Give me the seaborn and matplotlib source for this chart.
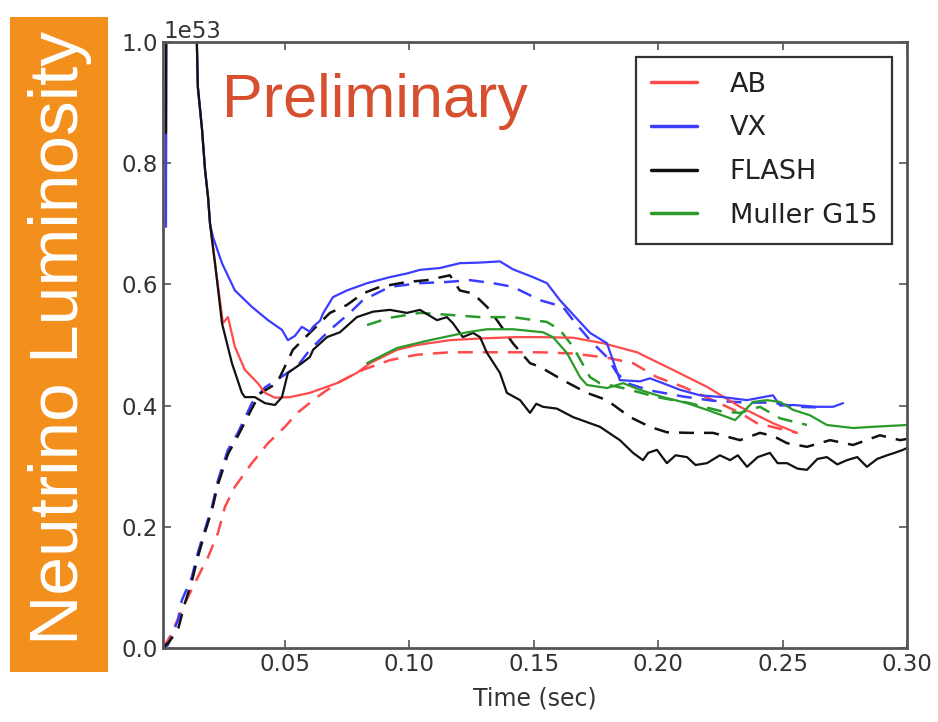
import numpy as np
import pandas as pd
import matplotlib
matplotlib.use("Agg")
import matplotlib.pyplot as plt
from matplotlib.patches import Rectangle
import seaborn as sns

SCALE = 1e53

# ---------------- data (time in s, luminosity in 1e53 erg/s) ----------------
vx_t = [0.0022, 0.0025, 0.0140, 0.0146, 0.0150, 0.0167, 0.0179, 0.0191, 0.0199, 0.0211,
        0.0247, 0.0299, 0.0367, 0.0432, 0.0488, 0.0512, 0.0540, 0.0568, 0.0600, 0.0613,
        0.0641, 0.0653, 0.0693, 0.0749, 0.0830, 0.0922, 0.0990, 0.1043, 0.1123, 0.1203,
        0.1284, 0.1364, 0.1416, 0.1497, 0.1553, 0.1605, 0.1726, 0.1794, 0.1846, 0.1927,
        0.1967, 0.2019, 0.2088, 0.2168, 0.2260, 0.2357, 0.2461, 0.2490, 0.2542, 0.2638,
        0.2703, 0.2743]
vx_L = [0.695, 1.5, 1.5, 1.0, 0.926, 0.855, 0.789, 0.744, 0.700, 0.678,
        0.635, 0.590, 0.563, 0.541, 0.525, 0.508, 0.515, 0.530, 0.522, 0.530,
        0.540, 0.552, 0.579, 0.590, 0.602, 0.612, 0.618, 0.624, 0.627, 0.635,
        0.636, 0.638, 0.625, 0.612, 0.602, 0.574, 0.520, 0.503, 0.442, 0.440,
        0.445, 0.437, 0.426, 0.417, 0.414, 0.409, 0.417, 0.400, 0.401, 0.398,
        0.398, 0.404]

vxd_t = [0.001, 0.0030, 0.0070, 0.0086, 0.0126, 0.0150, 0.0178, 0.0207, 0.0231, 0.0271,
         0.0311, 0.0367, 0.0420, 0.0548, 0.0600, 0.0681, 0.0761, 0.0813, 0.0922, 0.1043,
         0.1151, 0.1244, 0.1336, 0.1416, 0.1525, 0.1617, 0.1658, 0.1726, 0.1794, 0.1834,
         0.1875, 0.1967, 0.2100, 0.2220, 0.2357, 0.2461, 0.2558, 0.2650]
vxd_L = [0.0, 0.005, 0.046, 0.079, 0.117, 0.157, 0.195, 0.233, 0.277, 0.327,
         0.355, 0.404, 0.430, 0.464, 0.492, 0.525, 0.553, 0.574, 0.596, 0.602,
         0.604, 0.607, 0.602, 0.596, 0.574, 0.563, 0.541, 0.508, 0.480, 0.454,
         0.437, 0.425, 0.415, 0.408, 0.405, 0.405, 0.398, 0.397]

ab_t = [0.0022, 0.0025, 0.0140, 0.0146, 0.0150, 0.0167, 0.0179, 0.0191, 0.0199, 0.0219,
        0.0251, 0.0271, 0.0299, 0.0339, 0.0391, 0.0420, 0.0460, 0.0520, 0.0600, 0.0709,
        0.0789, 0.0842, 0.0950, 0.1031, 0.1163, 0.1296, 0.1432, 0.1525, 0.1658, 0.1778,
        0.1915, 0.2059, 0.2196, 0.2329, 0.2461, 0.2558]
ab_L = [0.80, 1.5, 1.5, 1.0, 0.926, 0.855, 0.789, 0.744, 0.700, 0.635,
        0.536, 0.546, 0.497, 0.459, 0.437, 0.421, 0.413, 0.414, 0.421, 0.437,
        0.454, 0.470, 0.492, 0.500, 0.508, 0.511, 0.513, 0.513, 0.512, 0.503,
        0.488, 0.459, 0.431, 0.398, 0.371, 0.355]

abd_t = [0.001, 0.0040, 0.0098, 0.0150, 0.0191, 0.0231, 0.0259, 0.0299, 0.0367, 0.0432,
         0.0500, 0.0550, 0.0629, 0.0709, 0.0813, 0.0922, 0.1031, 0.1163, 0.1300, 0.1432,
         0.1525, 0.1658, 0.1794, 0.1899, 0.1995, 0.2100, 0.2220, 0.2329, 0.2397, 0.2558]
abd_L = [0.0, 0.020, 0.074, 0.117, 0.150, 0.190, 0.233, 0.266, 0.305, 0.338,
         0.365, 0.388, 0.414, 0.437, 0.459, 0.475, 0.484, 0.488, 0.488, 0.488,
         0.488, 0.486, 0.479, 0.470, 0.447, 0.431, 0.409, 0.388, 0.371, 0.355]

fl_t = [0.0022, 0.0025, 0.0140, 0.0146, 0.0150, 0.0167, 0.0179, 0.0191, 0.0199, 0.0219,
        0.0247, 0.0287, 0.0327, 0.0339, 0.0379, 0.0420, 0.0460, 0.0488, 0.0512, 0.0568,
        0.0600, 0.0613, 0.0669, 0.0721, 0.0789, 0.0854, 0.0922, 0.0990, 0.1043, 0.1111,
        0.1151, 0.1175, 0.1215, 0.1256, 0.1284, 0.1312, 0.1364, 0.1392, 0.1445, 0.1485,
        0.1510, 0.1537, 0.1593, 0.1658, 0.1766, 0.1846, 0.1899, 0.1939, 0.1960, 0.1995,
        0.2035, 0.2070, 0.2116, 0.2150, 0.2196, 0.2248, 0.2289, 0.2320, 0.2357, 0.2400,
        0.2449, 0.2480, 0.2518, 0.2560, 0.2598, 0.2640, 0.2678, 0.2720, 0.2759, 0.2800,
        0.2839, 0.2880, 0.2920, 0.2950, 0.2984, 0.3000]
fl_L = [0.85, 1.5, 1.5, 1.0, 0.926, 0.855, 0.789, 0.744, 0.700, 0.635,
        0.536, 0.470, 0.421, 0.414, 0.414, 0.404, 0.401, 0.414, 0.454, 0.470,
        0.480, 0.492, 0.513, 0.521, 0.546, 0.555, 0.558, 0.553, 0.558, 0.541,
        0.546, 0.536, 0.513, 0.520, 0.513, 0.487, 0.454, 0.421, 0.409, 0.388,
        0.403, 0.398, 0.395, 0.381, 0.365, 0.343, 0.322, 0.310, 0.322, 0.327,
        0.305, 0.318, 0.315, 0.302, 0.305, 0.318, 0.310, 0.318, 0.299, 0.315,
        0.322, 0.305, 0.305, 0.296, 0.294, 0.312, 0.315, 0.303, 0.310, 0.315,
        0.299, 0.312, 0.318, 0.322, 0.327, 0.330]

fld_t = [0.001, 0.0034, 0.0070, 0.0098, 0.0126, 0.0150, 0.0178, 0.0207, 0.0231, 0.0271,
         0.0311, 0.0367, 0.0400, 0.0468, 0.0532, 0.0600, 0.0681, 0.0749, 0.0813, 0.0882,
         0.0990, 0.1071, 0.1163, 0.1203, 0.1256, 0.1312, 0.1352, 0.1416, 0.1485, 0.1525,
         0.1617, 0.1714, 0.1794, 0.1887, 0.1967, 0.2035, 0.2128, 0.2220, 0.2329, 0.2409,
         0.2461, 0.2518, 0.2598, 0.2691, 0.2783, 0.2891, 0.2972, 0.3000]
fld_L = [0.0, 0.010, 0.030, 0.074, 0.110, 0.150, 0.190, 0.228, 0.270, 0.320,
         0.350, 0.395, 0.420, 0.437, 0.492, 0.520, 0.553, 0.566, 0.585, 0.596,
         0.604, 0.607, 0.615, 0.590, 0.585, 0.563, 0.541, 0.503, 0.470, 0.464,
         0.442, 0.421, 0.409, 0.381, 0.365, 0.356, 0.355, 0.355, 0.343, 0.355,
         0.350, 0.338, 0.332, 0.343, 0.335, 0.351, 0.343, 0.345]

mu_t = [0.0830, 0.0950, 0.1083, 0.1232, 0.1312, 0.1416, 0.1537, 0.1577, 0.1633, 0.1686,
        0.1714, 0.1794, 0.1859, 0.1927, 0.2019, 0.2116, 0.2196, 0.2277, 0.2309, 0.2381,
        0.2437, 0.2490, 0.2542, 0.2610, 0.2678, 0.2783, 0.2863, 0.3000]
mu_L = [0.470, 0.495, 0.508, 0.521, 0.526, 0.526, 0.521, 0.513, 0.487, 0.447,
        0.434, 0.429, 0.437, 0.426, 0.414, 0.404, 0.393, 0.381, 0.376, 0.406,
        0.409, 0.406, 0.393, 0.384, 0.368, 0.363, 0.365, 0.368]

mud_t = [0.0830, 0.0922, 0.1043, 0.1151, 0.1284, 0.1416, 0.1553, 0.1605, 0.1658, 0.1726,
         0.1766, 0.1859, 0.1995, 0.2128, 0.2260, 0.2329, 0.2409, 0.2490, 0.2598]
mud_L = [0.533, 0.545, 0.553, 0.550, 0.546, 0.546, 0.538, 0.525, 0.497, 0.447,
         0.437, 0.429, 0.414, 0.404, 0.390, 0.388, 0.398, 0.379, 0.368]

labels = ["AB", "VX", "FLASH", "Muller G15"]
colors = {"AB": "#ff4a4a", "VX": "#3c3cff", "FLASH": "#111111", "Muller G15": "#2a9a2a"}

solid = {"AB": (ab_t, ab_L), "VX": (vx_t, vx_L), "FLASH": (fl_t, fl_L), "Muller G15": (mu_t, mu_L)}
dashed = {"AB": (abd_t, abd_L), "VX": (vxd_t, vxd_L), "FLASH": (fld_t, fld_L), "Muller G15": (mud_t, mud_L)}

# ---------------- plotting ----------------
sns.set_style("ticks", {"xtick.direction": "in", "ytick.direction": "in",
                        "axes.edgecolor": "#444444"})
plt.rcParams["font.family"] = ["DejaVu Sans"]

fig = plt.figure(figsize=(9.38, 7.22), dpi=100)
ax = fig.add_axes([163 / 938, 1 - 648 / 722, 744 / 938, 606 / 722])

for name in labels:
    t, L = dashed[name]
    df = pd.DataFrame({"t": t, "L": np.array(L) * SCALE})
    sns.lineplot(data=df, x="t", y="L", ax=ax, color=colors[name], lw=1.8,
                 linestyle=(0, (6, 4)), estimator=None, sort=False, legend=False)
for name in labels:
    t, L = solid[name]
    df = pd.DataFrame({"t": t, "L": np.array(L) * SCALE})
    sns.lineplot(data=df, x="t", y="L", ax=ax, color=colors[name], lw=1.6,
                 estimator=None, sort=False, label=name)

ax.set_xlim(0.001, 0.30)
ax.set_ylim(0, 1.0 * SCALE)
ax.set_xticks([0.05, 0.10, 0.15, 0.20, 0.25, 0.30])
ax.set_yticks(np.array([0.0, 0.2, 0.4, 0.6, 0.8, 1.0]) * SCALE)
ax.xaxis.set_major_formatter(matplotlib.ticker.FormatStrFormatter("%.2f"))
ax.tick_params(axis="both", which="both", top=True, right=True, length=6,
               width=1.2, color="#555555", labelsize=16.5, labelcolor="#333333")
ax.yaxis.get_offset_text().set_fontsize(16.5)
ax.yaxis.get_offset_text().set_color("#333333")
for sp in ax.spines.values():
    sp.set_linewidth(2.0)
    sp.set_color("#555555")

ax.set_xlabel("Time (sec)", fontsize=17, color="#333333", labelpad=8)
ax.set_ylabel("")

leg = ax.legend(loc="upper right", fontsize=19.5, frameon=True, fancybox=False,
                framealpha=1.0, edgecolor="#333333", handlelength=1.7,
                handletextpad=1.2, borderpad=0.55, labelspacing=0.65,
                borderaxespad=0.55)
leg.get_frame().set_linewidth(1.6)
for txt in leg.get_texts():
    txt.set_color("#222222")
for line in leg.get_lines():
    line.set_linewidth(2.5)

ax.text(222 / 938, 1 - 117 / 722, "Preliminary", transform=fig.transFigure,
        fontsize=44, color="#d6502f", family="Liberation Sans",
        ha="left", va="baseline")

fig.add_artist(Rectangle((10 / 938, 1 - 672 / 722), 98 / 938, 655 / 722,
                         transform=fig.transFigure, facecolor="#f3901d",
                         edgecolor="none"))
fig.text(60 / 938, 1 - 338 / 722, "Neutrino Luminosity", rotation=90,
         fontsize=50, color="white", family="Liberation Sans",
         ha="center", va="center")

fig.savefig("out.png", dpi=100)
